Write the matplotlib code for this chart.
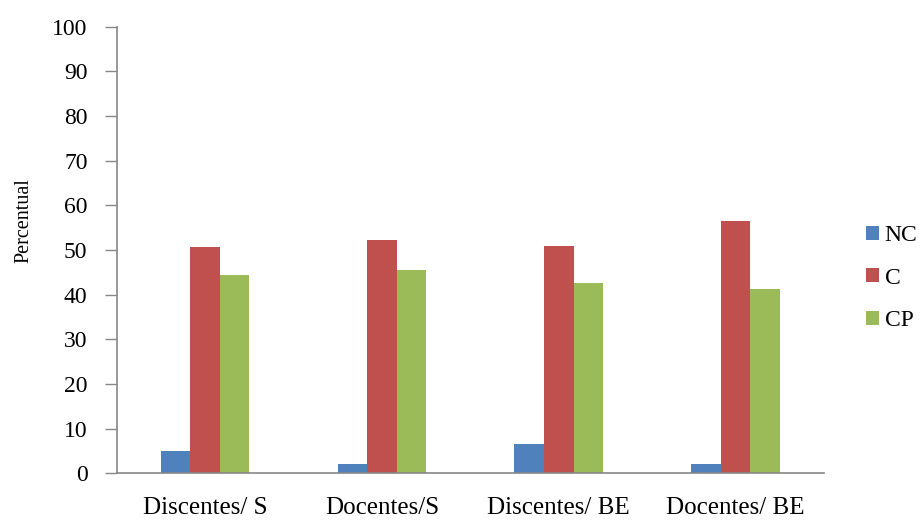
import matplotlib.pyplot as plt
import numpy as np

plt.rcParams['font.family'] = ['Liberation Serif', 'DejaVu Serif']

categories = ['Discentes/ S', 'Docentes/S', 'Discentes/ BE', 'Docentes/ BE']
nc = [4.9, 2.1, 6.5, 2.1]
c = [50.6, 52.2, 50.8, 56.4]
cp = [44.3, 45.6, 42.5, 41.2]
series = [('NC', nc, '#4F81BD'), ('C', c, '#C0504D'), ('CP', cp, '#9BBB59')]

fig = plt.figure(figsize=(9.24, 5.2), dpi=100)
ax = fig.add_axes([0.1263, 0.0898, 0.7655, 0.8589])

x = np.arange(len(categories))
w = 0.167
for i, (name, vals, col) in enumerate(series):
    ax.bar(x + (i - 1) * w, vals, w, color=col, label=name)

ax.set_xlim(-0.5, len(categories) - 0.5)
ax.set_ylim(0, 100)
ax.set_yticks(range(0, 101, 10))
ax.set_xticks(x)
ax.set_xticklabels(categories, fontsize=18)
ax.tick_params(axis='x', length=0, pad=17)
ax.tick_params(axis='y', length=9, width=1, color='#878787', labelsize=17, pad=12)
for s in ['top', 'right']:
    ax.spines[s].set_visible(False)
for s in ['left', 'bottom']:
    ax.spines[s].set_color('#878787')
    ax.spines[s].set_linewidth(1.2)
ax.set_ylabel('Percentual', fontsize=14.5)
ax.yaxis.set_label_coords(-0.118, 0.567)

handles, labels = ax.get_legend_handles_labels()
fig.legend(handles, labels, loc='center left', bbox_to_anchor=(0.937, 0.465),
           frameon=False, fontsize=17, handlelength=0.55, handleheight=0.55,
           handletextpad=0.25, labelspacing=0.92, borderpad=0, borderaxespad=0)

fig.savefig('out.png', dpi=100)
